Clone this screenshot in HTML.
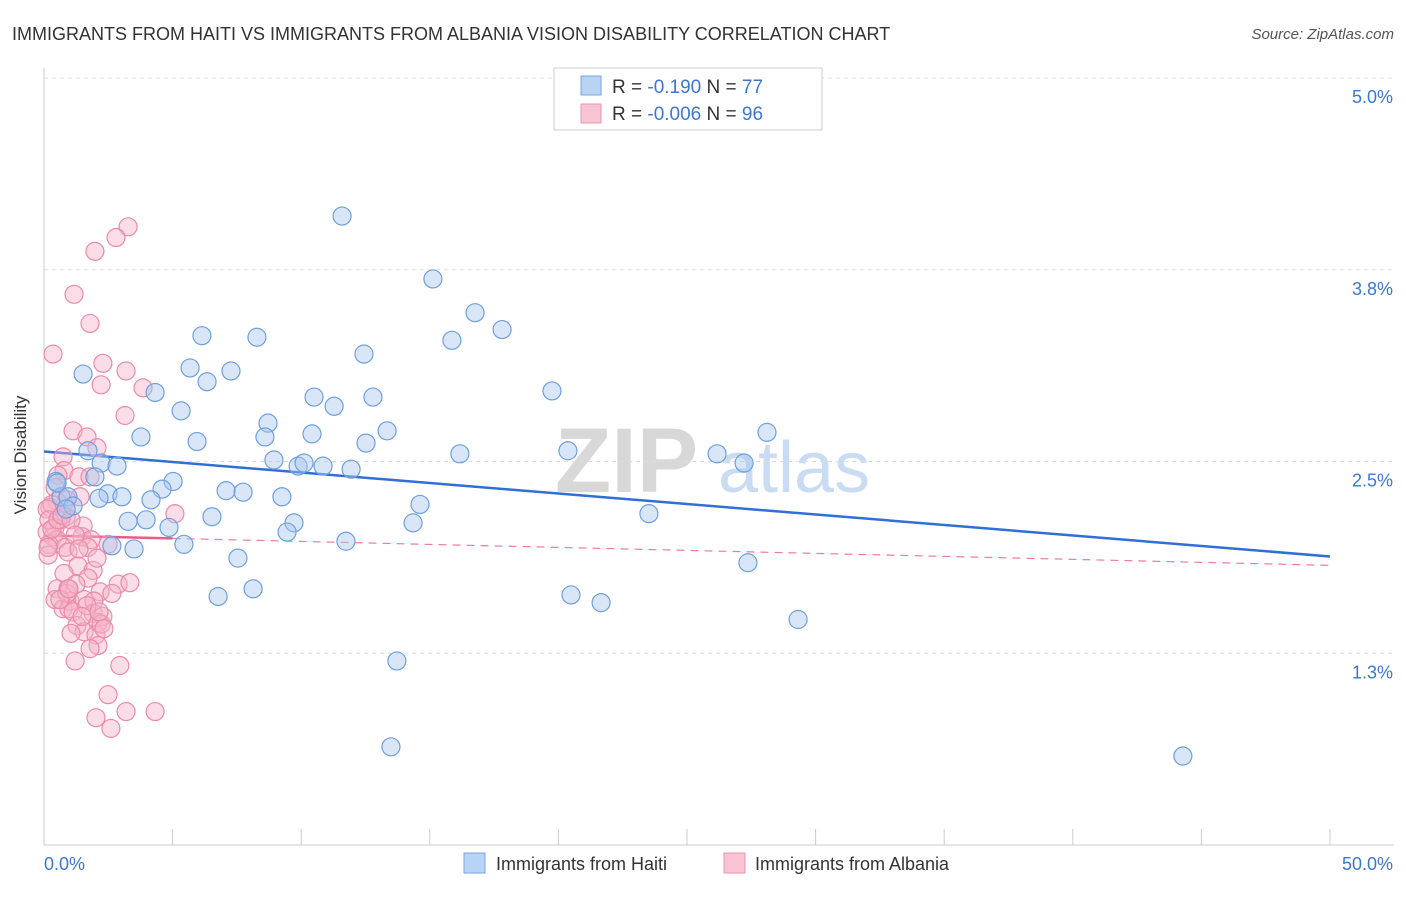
<!DOCTYPE html>
<html><head><meta charset="utf-8"><style>
body{margin:0;background:#fff;font-family:"Liberation Sans",sans-serif;}
svg text{font-family:"Liberation Sans",sans-serif;}
</style></head><body>
<svg width="1406" height="892" xmlns="http://www.w3.org/2000/svg">
<text x="12" y="40" font-size="18" fill="#333">IMMIGRANTS FROM HAITI VS IMMIGRANTS FROM ALBANIA VISION DISABILITY CORRELATION CHART</text>
<text x="1394" y="39" font-size="15" fill="#555" font-style="italic" text-anchor="end">Source: ZipAtlas.com</text>
<g>
<text x="555" y="492" font-size="92" fill="#d8d8d8" font-family="Liberation Serif" font-weight="bold">ZIP</text>
<text x="718" y="492" font-size="72" fill="#c9dcf3">atlas</text>
</g>
<g id="grid"></g><g id="axes"></g><g id="trend"></g><g id="pts"></g>
<text x="26" y="455" font-size="17" fill="#333" transform="rotate(-90 26 455)" text-anchor="middle">Vision Disability</text>
<g>
<rect x="554" y="68" width="268" height="62" fill="#fff" stroke="#ccc"/>
<rect x="581" y="76" width="20" height="19" fill="#b9d3f3" stroke="#7aa6e0"/>
<rect x="581" y="104" width="20" height="19" fill="#f8c3d3" stroke="#ee93b1"/>
<text x="612" y="93" font-size="19" fill="#333">R = <tspan fill="#3a78d4">-0.190</tspan>   N = <tspan fill="#3a78d4">77</tspan></text>
<text x="612" y="120" font-size="19" fill="#333">R = <tspan fill="#3a78d4">-0.006</tspan>   N = <tspan fill="#3a78d4">96</tspan></text>
</g>
<g>
<rect x="464" y="853" width="21" height="20" fill="#b9d3f3" stroke="#7aa6e0"/>
<text x="496" y="870" font-size="18" fill="#333">Immigrants from Haiti</text>
<rect x="724" y="853" width="21" height="20" fill="#f8c3d3" stroke="#ee93b1"/>
<text x="755" y="870" font-size="18" fill="#333">Immigrants from Albania</text>
</g>
</svg>
<script>
const haitiX=[11.59,15.12,16.76,17.81,15.86,12.44,6.14,8.28,1.52,5.68,7.27,6.34,4.32,10.50,12.79,19.75,11.28,5.33,8.71,3.77,5.95,8.59,10.42,13.34,12.52,28.11,1.71,16.17,20.37,26.17,27.22,2.22,2.84,8.94,9.88,10.11,10.85,11.94,5.02,1.98,0.47,4.59,7.08,7.74,2.49,3.03,4.16,9.25,14.62,0.66,0.93,2.14,1.13,23.52,6.53,3.27,3.97,9.72,14.35,9.45,4.86,11.74,2.64,3.50,5.44,7.54,27.37,8.13,6.77,20.49,21.66,29.32,13.72,13.49,44.28,0.51,0.86];
const haitiY=[4.10,3.69,3.47,3.36,3.29,3.20,3.32,3.31,3.07,3.11,3.09,3.02,2.95,2.92,2.92,2.96,2.86,2.83,2.75,2.66,2.63,2.66,2.68,2.70,2.62,2.69,2.57,2.55,2.57,2.55,2.49,2.49,2.47,2.51,2.47,2.49,2.47,2.45,2.37,2.40,2.37,2.32,2.31,2.30,2.29,2.27,2.25,2.27,2.22,2.27,2.27,2.26,2.21,2.16,2.14,2.11,2.12,2.10,2.10,2.04,2.07,1.98,1.95,1.93,1.96,1.87,1.84,1.67,1.62,1.63,1.58,1.47,1.20,0.64,0.58,2.36,2.19];
const albaniaX=[3.27,2.80,1.98,1.17,1.79,0.35,2.29,3.19,2.22,3.85,3.15,1.13,1.67,2.06,0.74,0.78,0.54,1.36,1.79,0.43,1.40,0.89,0.51,0.23,0.31,0.86,0.66,1.52,0.43,0.12,0.35,0.51,1.48,1.83,5.09,0.19,0.82,0.93,1.71,2.49,0.16,1.32,1.91,2.06,0.78,1.71,2.88,3.34,0.51,0.93,2.18,2.64,0.43,1.01,1.56,1.94,0.74,0.97,1.13,1.91,2.29,2.10,1.28,1.56,1.05,2.02,2.22,2.10,1.79,1.21,2.95,2.49,3.19,4.32,2.02,2.60,0.12,0.19,0.31,0.54,0.70,1.05,1.21,1.36,0.89,0.62,1.67,1.48,2.14,2.33,1.24,0.97,0.16];
const albaniaY=[4.03,3.96,3.87,3.59,3.40,3.20,3.14,3.09,3.00,2.98,2.80,2.70,2.66,2.59,2.53,2.44,2.41,2.40,2.40,2.33,2.27,2.25,2.24,2.20,2.22,2.14,2.12,2.08,2.07,2.04,2.01,1.99,2.01,1.99,2.16,1.96,1.94,1.91,1.94,1.96,1.89,1.82,1.79,1.87,1.77,1.74,1.70,1.71,1.67,1.67,1.65,1.64,1.60,1.59,1.60,1.59,1.54,1.54,1.52,1.51,1.49,1.45,1.43,1.39,1.38,1.37,1.44,1.30,1.28,1.20,1.17,0.98,0.87,0.87,0.83,0.76,2.19,2.12,2.06,2.12,2.15,2.12,2.02,1.93,1.64,1.60,1.56,1.49,1.52,1.41,1.70,1.67,1.94];
const yTicks=[5.0,3.75,2.5,1.25];
const yTickLabels=["5.0%","3.8%","2.5%","1.3%"];
const xTickVals=[0,5,10,15,20,25,30,35,40,45,50];
const haitiTrend=[2.565,1.881];
const albaniaTrend=[2.018,1.823];
const NS="http://www.w3.org/2000/svg";
const X0=44,X1=1330,Y0=845,Y1=78;
const sx=v=>X0+(v/50)*(X1-X0);
const sy=v=>Y0-(v/5)*(Y0-Y1);
function mk(t,a,p){const e=document.createElementNS(NS,t);for(const k in a)e.setAttribute(k,a[k]);p.appendChild(e);return e;}
const grid=document.getElementById('grid'),axes=document.getElementById('axes'),trend=document.getElementById('trend'),pts=document.getElementById('pts');
yTicks.forEach((v,i)=>{
 const l=mk('line',{x1:X0,x2:1394,y1:sy(v),y2:sy(v),stroke:'#ddd','stroke-dasharray':'4,4'},grid);
 
 
 const t=mk('text',{x:1393,y:sy(v)+25,'font-size':18,fill:'#3a78d4','text-anchor':'end'},axes);
 t.textContent=yTickLabels[i];
 
 
});
const ax=mk('line',{x1:X0,x2:X0,y1:68,y2:Y0,stroke:'#ccc'},axes);


const bx=mk('line',{x1:X0,x2:1394,y1:Y0,y2:Y0,stroke:'#ccc'},axes);


xTickVals.forEach(v=>{
 const l=mk('line',{x1:sx(v),x2:sx(v),y1:Y0,y2:Y0-16,stroke:'#ccc'},axes);
 
 
});
const xl=mk('text',{x:44,y:870,'font-size':18,fill:'#3a78d4'},axes);xl.textContent='0.0%';


const xr=mk('text',{x:1393,y:870,'font-size':18,fill:'#3a78d4','text-anchor':'end'},axes);xr.textContent='50.0%';


function dots(xs,ys,fill,stroke,name){xs.forEach((x,i)=>{
 const c=mk('circle',{cx:sx(x),cy:sy(ys[i]),r:9,fill:fill,'fill-opacity':0.45,stroke:stroke,'stroke-width':1.2},pts);
 
 
});}
dots(albaniaX,albaniaY,'#f5b3c8','#ec8aab','albania-point');
dots(haitiX,haitiY,'#a9c8f0','#6f9fe0','haiti-point');
const tb=mk('line',{x1:sx(0),y1:sy(haitiTrend[0]),x2:sx(50),y2:sy(haitiTrend[1]),stroke:'#2f6fd6','stroke-width':2.5},trend);


const slope=(albaniaTrend[1]-albaniaTrend[0])/50;
const tp1=mk('line',{x1:sx(0),y1:sy(albaniaTrend[0]),x2:sx(5),y2:sy(albaniaTrend[0]+slope*5),stroke:'#e85c88','stroke-width':2.5},trend);


const tp2=mk('line',{x1:sx(5),y1:sy(albaniaTrend[0]+slope*5),x2:sx(50),y2:sy(albaniaTrend[1]),stroke:'#e87fa0','stroke-width':1.2,'stroke-dasharray':'8,6'},trend);


</script>
</body></html>
